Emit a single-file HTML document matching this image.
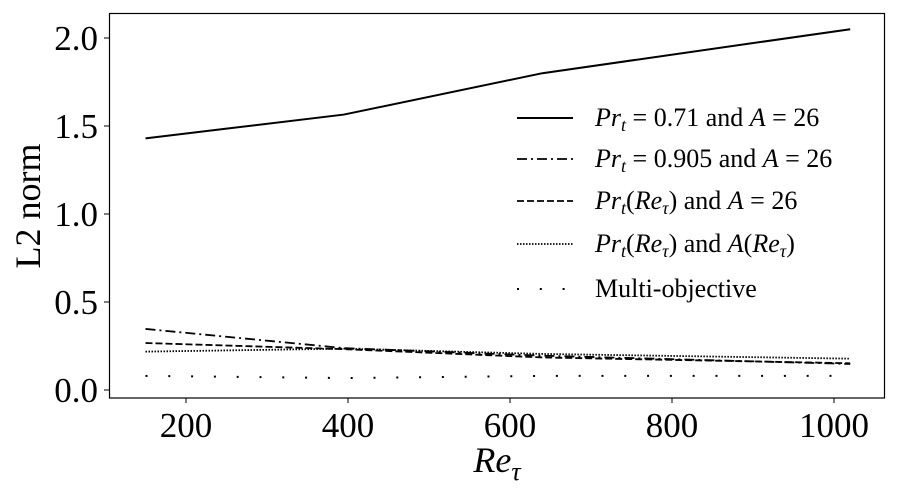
<!DOCTYPE html>
<html><head><meta charset="utf-8"><style>
body{margin:0;background:#fff;}
svg{display:block;font-family:"Liberation Serif",serif;}
</style></head><body>
<svg id="chart" width="897" height="495" viewBox="0 0 897 495">
<rect x="0" y="0" width="897" height="495" fill="#fff"/>
<g id="series"></g>
<rect x="109.5" y="13.5" width="775" height="384.5" fill="none" stroke="#000" stroke-width="1.2"/>
<g id="axes"></g>
<text x="497" y="472" font-size="36" font-style="italic" text-anchor="middle">Re<tspan font-size="26" dy="8">τ</tspan></text>
<text x="40" y="206" font-size="36" text-anchor="middle" transform="rotate(-90 40 206)">L2 norm</text>
<g id="legend"></g>
</svg>
<script>
const reTau = [150, 395, 640, 1020];
const prt071 = [1.43, 1.565, 1.80, 2.05];
const prt0905 = [0.347, 0.238, 0.195, 0.148];
const prtRe = [0.267, 0.232, 0.185, 0.152];
const prtReARe = [0.218, 0.235, 0.205, 0.178];
const multiObj = [0.08, 0.068, 0.08, 0.08];
const xTicks = [200, 400, 600, 800, 1000];
const yTicks = [0.0, 0.5, 1.0, 1.5, 2.0];
const EQ = '<tspan dy="-5">\u2005=\u2005</tspan>';
const legendLabels = [
 '<tspan font-style="italic">Pr<tspan font-size="18" dy="5">t</tspan></tspan>' + EQ + '<tspan>0.71 and </tspan><tspan font-style="italic">A</tspan>\u2005=\u200526',
 '<tspan font-style="italic">Pr<tspan font-size="18" dy="5">t</tspan></tspan>' + EQ + '<tspan>0.905 and </tspan><tspan font-style="italic">A</tspan>\u2005=\u200526',
 '<tspan font-style="italic">Pr<tspan font-size="18" dy="5">t</tspan></tspan><tspan dy="-5">(</tspan><tspan font-style="italic">Re<tspan font-size="18" dy="5">τ</tspan></tspan><tspan dy="-5">) and </tspan><tspan font-style="italic">A</tspan>\u2005=\u200526',
 '<tspan font-style="italic">Pr<tspan font-size="18" dy="5">t</tspan></tspan><tspan dy="-5">(</tspan><tspan font-style="italic">Re<tspan font-size="18" dy="5">τ</tspan></tspan><tspan dy="-5">) and </tspan><tspan font-style="italic">A</tspan>(<tspan font-style="italic">Re<tspan font-size="18" dy="5">τ</tspan></tspan><tspan dy="-5">)</tspan>',
 'Multi-objective'
];
const NS = "http://www.w3.org/2000/svg";
const xs = v => 186 + (v - 200) * 162 / 200;
const ys = v => 390 - v * 176;
const styles = [
 {d: prt071, dash: "", w: 2, name: "series-prt-0-71"},
 {d: prt0905, dash: "10 4 2 4", w: 1.8, name: "series-prt-0-905"},
 {d: prtRe, dash: "7 3", w: 1.8, name: "series-prt-re"},
 {d: prtReARe, dash: "1.5 1.5", w: 1.8, name: "series-prt-re-a-re"},
 {d: multiObj, dash: "2 20.8", w: 2, name: "series-multi-objective"}
];
const sg = document.getElementById('series');
styles.forEach(s => {
 const p = document.createElementNS(NS, 'polyline');
 p.setAttribute('points', reTau.map((x, i) => xs(x) + ',' + ys(s.d[i])).join(' '));
 p.setAttribute('fill', 'none'); p.setAttribute('stroke', '#000');
 p.setAttribute('stroke-width', s.w);
 if (s.dash) p.setAttribute('stroke-dasharray', s.dash);
 
 
 sg.appendChild(p);
});
const ax = document.getElementById('axes');
xTicks.forEach(t => {
 const l = document.createElementNS(NS, 'line');
 l.setAttribute('x1', xs(t)); l.setAttribute('x2', xs(t));
 l.setAttribute('y1', 398); l.setAttribute('y2', 403); l.setAttribute('stroke', '#000');
 
 
 ax.appendChild(l);
 const tx = document.createElementNS(NS, 'text');
 tx.setAttribute('x', xs(t)); tx.setAttribute('y', 437);
 tx.setAttribute('font-size', '35'); tx.setAttribute('text-anchor', 'middle');
 tx.textContent = t;
 
 
 ax.appendChild(tx);
});
yTicks.forEach(t => {
 const l = document.createElementNS(NS, 'line');
 l.setAttribute('x1', 104); l.setAttribute('x2', 109.5);
 l.setAttribute('y1', ys(t)); l.setAttribute('y2', ys(t)); l.setAttribute('stroke', '#000');
 
 
 ax.appendChild(l);
 const tx = document.createElementNS(NS, 'text');
 tx.setAttribute('x', 98); tx.setAttribute('y', ys(t) + 12);
 tx.setAttribute('font-size', '35'); tx.setAttribute('text-anchor', 'end');
 tx.textContent = t.toFixed(1);
 
 
 ax.appendChild(tx);
});
const lg = document.getElementById('legend');
const rowY = [118, 159, 201, 244, 289];
styles.forEach((s, i) => {
 const l = document.createElementNS(NS, 'line');
 l.setAttribute('x1', 517); l.setAttribute('x2', 573);
 l.setAttribute('y1', rowY[i]); l.setAttribute('y2', rowY[i]);
 l.setAttribute('stroke', '#000'); l.setAttribute('stroke-width', s.w);
 if (s.dash) l.setAttribute('stroke-dasharray', s.dash);
 
 
 lg.appendChild(l);
 const tx = document.createElementNS(NS, 'text');
 tx.setAttribute('x', 595); tx.setAttribute('y', rowY[i] + 8);
 tx.setAttribute('font-size', '26');
 tx.innerHTML = legendLabels[i];
 
 
 lg.appendChild(tx);
});
</script>
</body></html>
